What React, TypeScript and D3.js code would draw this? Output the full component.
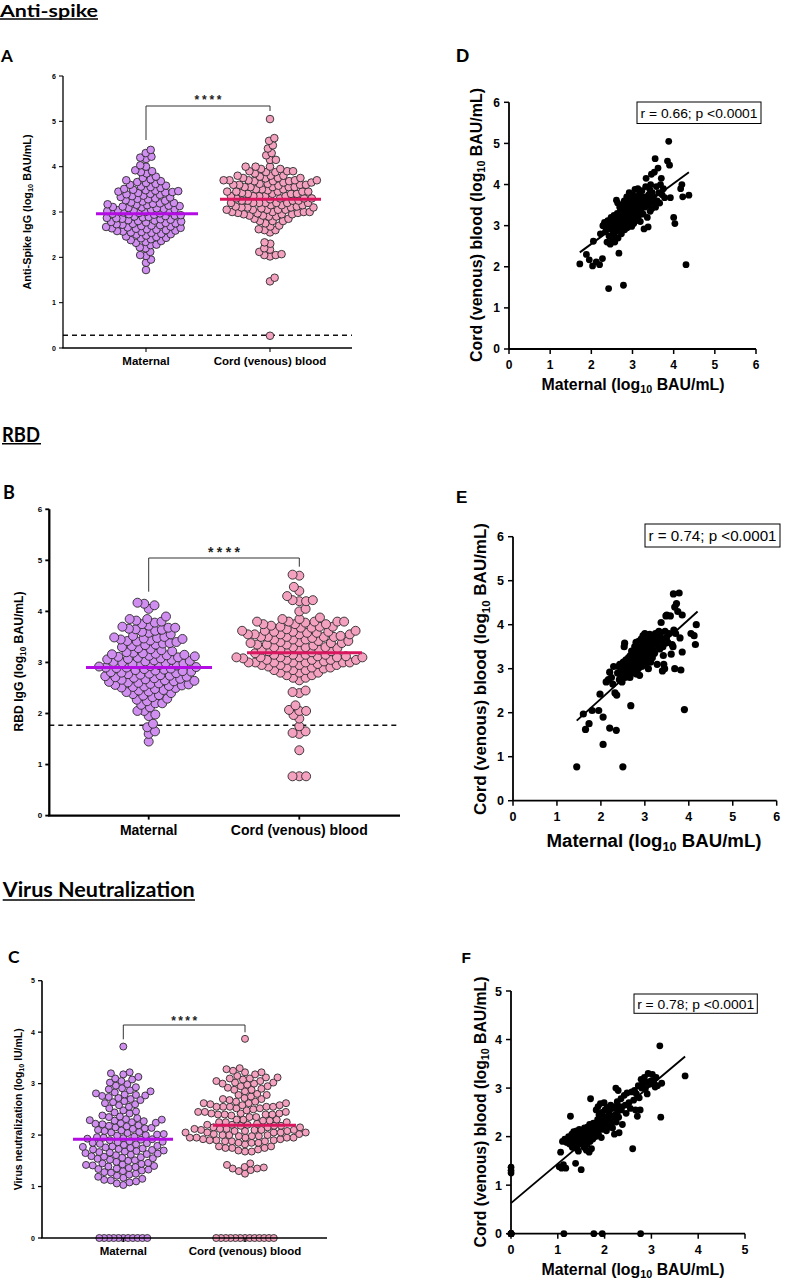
import React from "react";
import * as d3 from "d3";

// ---------------- DATA ----------------
const groupLabels = ["Maternal", "Cord (venous) blood"];
const ticks6 = [0, 1, 2, 3, 4, 5, 6];
const ticks5 = [0, 1, 2, 3, 4, 5];

// Anti-spike: [maternal, cord] log10 BAU/mL
const spikePairs: [number, number][] = [
  [1.72, 2.07], [1.88, 2.3], [1.95, 2.17],
  [2.03, 2.02], [2.05, 2.62], [2.12, 2.12], [2.2, 2.05], [2.27, 2.2], [2.22, 2.8], [2.28, 3.0],
  [2.32, 3.08], [2.34, 2.85], [2.36, 2.95], [2.38, 2.6], [2.4, 3.12], [2.42, 1.47], [2.43, 2.75], [2.45, 3.0], [2.46, 2.55], [2.48, 3.2],
  [2.5, 2.9], [2.51, 2.68], [2.52, 3.1], [2.54, 2.8], [2.55, 3.25], [2.56, 2.98], [2.57, 2.6], [2.58, 3.05], [2.59, 2.85], [2.6, 3.15],
  [2.61, 3.62], [2.62, 2.92], [2.63, 3.3], [2.64, 3.55], [2.65, 2.7], [2.66, 3.05], [2.67, 2.33], [2.68, 3.2], [2.69, 3.45], [2.7, 2.95],
  [2.71, 3.35], [2.72, 3.1], [2.73, 2.8], [2.74, 3.5], [2.75, 3.25], [2.76, 3.0], [2.77, 3.4], [2.78, 1.55], [2.79, 3.15], [2.8, 3.6],
  [2.81, 2.9], [2.82, 3.3], [2.83, 3.05], [2.84, 3.45], [2.85, 3.2], [2.86, 3.7], [2.87, 2.95], [2.88, 3.35], [2.89, 3.1], [2.9, 3.55],
  [2.91, 3.25], [2.92, 3.8], [2.93, 3.0], [2.94, 3.4], [2.95, 3.15], [2.96, 3.65], [2.97, 3.3], [2.98, 2.98], [2.99, 3.5], [3.0, 3.2],
  [3.01, 3.75], [3.02, 3.35], [3.03, 3.05], [3.04, 3.6], [3.05, 3.25], [3.06, 3.88], [3.07, 3.45], [3.08, 3.12], [3.09, 3.7], [3.1, 3.3],
  [3.11, 3.55], [3.12, 3.4], [3.13, 3.9], [3.14, 3.2], [3.15, 3.62], [3.16, 3.35], [3.17, 3.78], [3.18, 3.48], [3.19, 3.1], [3.2, 3.68],
  [3.21, 3.4], [3.23, 3.85], [3.25, 3.55], [3.26, 3.28], [3.28, 2.92], [3.29, 3.7], [3.3, 3.45], [3.32, 3.95], [3.33, 4.15], [3.35, 3.6],
  [3.36, 3.2], [3.38, 2.97], [3.39, 3.75], [3.4, 3.5], [3.42, 3.88], [3.43, 3.35], [3.44, 4.0], [3.45, 3.65], [3.46, 4.25], [3.47, 3.42],
  [3.48, 3.8], [3.49, 3.58], [3.51, 3.7], [3.53, 4.3], [3.55, 4.63], [3.56, 3.45], [3.58, 3.95], [3.6, 3.6], [3.62, 4.4], [3.64, 3.8],
  [3.66, 3.55], [3.68, 4.0], [3.7, 4.15], [3.72, 3.75], [3.75, 3.9], [3.78, 3.68], [3.85, 4.57], [3.88, 5.05], [3.9, 4.47], [3.92, 3.68],
  [4.0, 3.2], [4.03, 3.05], [4.17, 3.9], [4.2, 4.0], [4.22, 3.7], [4.3, 2.05], [4.37, 3.74],
];
const spikeCordExtra = [0.27];
const spikeMedians = [2.96, 3.28];
const spikeCutoff = 0.28;
const spikeFit: [number, number][] = [[1.72, 2.35], [4.37, 4.3]];
const spikeStat = "r = 0.66; p <0.0001";

// RBD
const rbdPairs: [number, number][] = [
  [1.45, 0.77], [1.6, 1.97], [1.65, 1.62],
  [1.73, 1.75], [1.8, 2.05], [1.95, 2.05], [1.98, 2.42],
  [2.05, 1.28], [2.05, 1.9], [2.12, 2.7], [2.17, 2.75], [2.2, 1.65], [2.2, 2.92], [2.24, 2.8], [2.27, 2.65], [2.29, 3.05],
  [2.32, 2.45], [2.35, 1.6], [2.36, 2.4], [2.38, 2.9], [2.4, 3.05], [2.42, 2.75], [2.43, 3.1], [2.45, 2.85], [2.46, 3.0], [2.48, 2.7],
  [2.5, 0.77], [2.51, 3.15], [2.52, 2.95], [2.53, 3.5], [2.54, 3.58], [2.55, 2.8], [2.56, 3.08], [2.57, 3.2], [2.58, 2.9], [2.59, 3.02],
  [2.6, 3.12], [2.61, 2.85], [2.62, 3.0], [2.63, 3.25], [2.64, 2.95], [2.65, 3.1], [2.66, 2.8], [2.67, 3.3], [2.68, 2.16], [2.69, 3.05],
  [2.7, 3.4], [2.71, 2.9], [2.72, 3.18], [2.73, 3.0], [2.74, 3.35], [2.75, 3.1], [2.76, 2.95], [2.77, 3.5], [2.78, 3.22], [2.79, 3.05],
  [2.8, 3.6], [2.81, 2.88], [2.82, 3.3], [2.83, 3.15], [2.84, 3.45], [2.85, 3.0], [2.86, 3.62], [2.87, 3.25], [2.88, 2.85], [2.89, 3.4],
  [2.9, 3.12], [2.9, 3.55], [2.91, 3.2], [2.92, 3.68], [2.93, 3.05], [2.94, 3.42], [2.95, 3.3], [2.96, 3.75], [2.97, 3.15], [2.98, 3.52],
  [2.99, 3.25], [3.0, 3.8], [3.01, 3.38], [3.02, 3.1], [3.03, 3.62], [3.04, 3.48], [3.05, 3.22], [3.06, 3.72], [3.07, 3.35], [3.08, 3.0],
  [3.09, 3.55], [3.1, 3.28], [3.11, 3.78], [3.12, 3.45], [3.13, 3.15], [3.14, 3.65], [3.15, 3.38], [3.16, 3.5], [3.17, 3.25], [3.18, 3.7],
  [3.19, 3.42], [3.2, 3.6], [3.22, 3.35], [3.24, 3.8], [3.26, 3.55], [3.28, 3.1], [3.3, 3.68], [3.32, 3.85], [3.34, 3.45], [3.35, 3.75],
  [3.37, 4.05], [3.38, 3.62], [3.4, 2.95], [3.41, 3.5], [3.42, 3.3], [3.43, 3.1], [3.45, 3.0], [3.46, 3.85], [3.47, 3.58], [3.48, 4.2],
  [3.49, 3.7], [3.5, 4.22], [3.52, 3.6], [3.55, 3.8], [3.58, 4.2], [3.6, 3.33], [3.62, 3.55], [3.64, 3.5], [3.65, 4.7], [3.66, 3.88],
  [3.68, 4.4], [3.68, 3.0], [3.7, 3.8], [3.72, 4.48], [3.75, 4.3], [3.78, 4.72], [3.8, 3.7], [3.82, 2.97], [3.85, 3.38], [3.85, 4.22],
  [3.9, 2.07], [4.05, 3.8], [4.15, 3.55], [4.17, 4.0], [4.12, 3.75],
];
const rbdCordExtra = [0.77];
const rbdMedians = [2.9, 3.19];
const rbdCutoff = 1.77;
const rbdFit: [number, number][] = [[1.45, 1.82], [4.2, 4.3]];
const rbdStat = "r = 0.74; p <0.0001";

// Virus neutralization: [maternal, cord] log10 IU/mL
const neutPairs: [number, number][] = [
  [0, 0], [0, 0], [0, 0], [0, 0], [0, 0], [0, 0], [0, 0], [0, 1.25], [0, 1.3], [0, 1.37],
  [1.13, 0], [1.77, 0], [1.95, 0], [2.77, 0],
  [1.03, 1.38], [1.06, 1.68], [1.08, 1.35], [1.1, 1.9], [1.12, 1.42], [1.15, 1.95], [1.17, 1.35], [1.19, 1.88],
  [1.21, 1.92], [1.23, 2.0], [1.25, 1.85], [1.27, 2.42], [1.28, 1.95], [1.3, 2.05], [1.31, 1.78], [1.33, 1.9], [1.34, 2.1], [1.35, 1.82],
  [1.36, 2.0], [1.38, 1.45], [1.39, 1.88], [1.4, 2.12],
  [1.41, 1.75], [1.42, 1.95], [1.43, 2.05], [1.44, 1.7], [1.45, 1.88], [1.46, 2.15], [1.48, 1.98], [1.5, 1.32], [1.51, 1.85], [1.52, 2.1],
  [1.54, 1.92], [1.55, 2.02], [1.56, 1.78], [1.57, 2.18], [1.58, 1.95], [1.59, 2.08],
  [1.61, 1.72], [1.62, 2.12], [1.63, 1.85], [1.64, 2.2], [1.65, 1.98], [1.66, 2.05], [1.67, 1.68], [1.68, 2.25], [1.69, 1.9], [1.7, 2.78],
  [1.71, 2.1], [1.72, 1.75], [1.73, 2.02], [1.74, 2.18], [1.75, 1.95], [1.76, 2.28], [1.78, 2.08], [1.79, 2.15],
  [1.81, 2.0], [1.82, 2.55], [1.83, 2.22], [1.84, 2.1], [1.85, 2.35], [1.86, 2.62], [1.87, 2.05], [1.88, 2.45], [1.9, 2.2], [1.91, 2.68],
  [1.92, 2.3], [1.93, 1.98], [1.94, 2.5], [1.96, 2.15], [1.97, 2.4], [1.99, 2.7],
  [2.0, 2.25], [2.01, 2.55], [2.02, 2.38], [2.04, 2.12], [2.05, 2.6], [2.06, 2.3], [2.08, 2.45], [2.09, 2.2], [2.1, 2.52], [2.12, 2.35],
  [2.13, 2.65], [2.14, 2.28], [2.15, 2.42], [2.17, 2.18], [2.18, 2.58], [2.19, 2.4],
  [2.21, 2.05], [2.22, 2.62], [2.23, 2.45], [2.24, 3.0], [2.25, 2.3], [2.27, 2.72], [2.28, 2.52], [2.29, 2.95], [2.3, 2.4], [2.31, 2.08],
  [2.33, 2.62], [2.35, 2.78], [2.36, 2.55], [2.38, 2.25],
  [2.42, 2.85], [2.44, 2.65], [2.46, 2.48], [2.48, 2.9], [2.52, 2.7], [2.55, 2.58], [2.58, 2.92], [2.6, 1.75],
  [2.62, 2.75], [2.64, 2.95], [2.66, 2.55], [2.68, 2.88], [2.7, 2.42], [2.72, 3.05], [2.74, 2.8], [2.76, 2.55], [2.78, 3.18], [2.79, 3.0],
  [2.81, 3.1], [2.83, 3.02], [2.85, 3.22], [2.87, 2.98], [2.89, 3.12], [2.91, 2.88], [2.93, 3.3], [2.96, 3.08], [2.99, 3.15],
  [3.02, 3.28], [3.05, 3.12], [3.08, 3.02], [3.1, 3.22], [3.13, 3.05], [3.18, 3.87], [3.2, 2.4], [3.22, 3.1],
  [3.72, 3.25],
];
const neutMaternalExtra = [0];
const neutCordExtra = [0, 0];
const neutMedians = [1.92, 2.19];
const neutFit: [number, number][] = [[0, 0.63], [3.72, 3.65]];
const neutStat = "r = 0.78; p <0.0001";

// ---------------- STYLE ----------------
const MAT_FILL = "#d08ef0";
const CORD_FILL = "#f4a0bf";
const MAT_LINE = "#b30de3";
const CORD_LINE = "#d8175f";
const ARIAL = "'Liberation Sans', Arial, sans-serif";
const TITLE = "Lato, 'Open Sans', sans-serif";

// beeswarm layout (positions only)
function swarm(values: number[], y: (v: number) => number, d: number) {
  const items = values.map((v) => ({ v, py: y(v) })).sort((a, b) => b.py - a.py);
  const placed: { x: number; y: number }[] = [];
  items.forEach((p, k) => {
    const iv: [number, number][] = [];
    for (const q of placed) {
      const dy = Math.abs(q.y - p.py);
      if (dy < d) {
        const w = Math.sqrt(d * d - dy * dy);
        iv.push([q.x - w, q.x + w]);
      }
    }
    const cands = [0];
    iv.forEach(([a, b]) => cands.push(a, b));
    const sgn = k % 2 === 0 ? 1 : -1;
    cands.sort((a, b) => Math.abs(a) - Math.abs(b) || (b - a) * sgn);
    let x = 0;
    for (const c of cands) {
      if (iv.every(([a, b]) => c <= a + 1e-6 || c >= b - 1e-6)) {
        x = c;
        break;
      }
    }
    placed.push({ x, y: p.py });
  });
  return placed;
}

function layoutGroup(vals: number[], y: (v: number) => number, d: number, dZero: number) {
  const zeros = vals.filter((v) => v === 0);
  const rest = vals.filter((v) => v !== 0);
  return swarm(rest, y, d).concat(swarm(zeros, y, dZero));
}

function LogLabel({ pre, post, f }: { pre: string; post: string; f: number }) {
  return (
    <>
      <tspan>{pre}</tspan>
      <tspan fontSize={f * 0.68} dy={f * 0.22}>10</tspan>
      <tspan dy={-f * 0.22}>{post}</tspan>
    </>
  );
}

function SwarmPanel({ c }: { c: any }) {
  const y = d3.scaleLinear().domain([0, c.yMax]).range([c.y0, c.yTop]);
  const pts = c.groups.map((vals: number[], gi: number) =>
    layoutGroup(vals, y, c.d, c.dZero).map((p) => ({ cx: c.cats[gi] + p.x, cy: p.y }))
  );
  const fills = [MAT_FILL, CORD_FILL];
  const lines = [MAT_LINE, CORD_LINE];
  return (
    <g fontFamily={ARIAL}>
      {c.cutoff != null && (
        <line x1={c.x0} x2={c.x1} y1={y(c.cutoff)} y2={y(c.cutoff)} stroke="#111" strokeWidth={1.5} strokeDasharray="5 4" />
      )}
      {pts.map((g: any[], gi: number) =>
        g.map((p, i) => (
          <circle key={gi + "-" + i} cx={p.cx} cy={p.cy} r={c.r} fill={fills[gi]} stroke="#2a2a2a" strokeWidth={0.9} />
        ))
      )}
      {c.medians.map((m: number, gi: number) => (
        <line key={"m" + gi} x1={c.medSpans[gi][0]} x2={c.medSpans[gi][1]} y1={y(m)} y2={y(m)} stroke={lines[gi]} strokeWidth={3} />
      ))}
      {/* bracket */}
      <path
        d={`M${c.cats[0]},${c.bracket[1]}V${c.bracket[0]}H${c.cats[1]}V${c.bracket[2]}`}
        fill="none"
        stroke="#333"
        strokeWidth={1}
      />
      <text x={(c.cats[0] + c.cats[1]) / 2} y={c.starsY} textAnchor="middle" fontWeight="bold" fontSize={c.starsFont} fill="#222" textLength={c.starsLen} lengthAdjust="spacing">
        ****
      </text>
      {/* axes */}
      <line x1={c.x0} x2={c.x0} y1={c.y0} y2={c.yTop} stroke="#000" strokeWidth={c.axisW} />
      <line x1={c.x0 - c.axisW / 2} x2={c.x1} y1={c.y0} y2={c.y0} stroke="#000" strokeWidth={c.axisW} />
      {c.ticks.map((t: number) => (
        <g key={t}>
          <line x1={c.x0 - 4} x2={c.x0} y1={y(t)} y2={y(t)} stroke="#000" strokeWidth={c.axisW * 0.8} />
          <text x={c.x0 - 7} y={y(t) + c.tickFont * 0.36} textAnchor="end" fontSize={c.tickFont} fontWeight="bold">
            {t}
          </text>
        </g>
      ))}
      {c.cats.map((cx: number, i: number) => (
        <g key={"c" + i}>
          <line x1={cx} x2={cx} y1={c.y0} y2={c.y0 + 4} stroke="#000" strokeWidth={c.axisW * 0.8} />
          <text x={cx} y={c.catBase} textAnchor="middle" fontSize={c.catFont} fontWeight="bold">
            {groupLabels[i]}
          </text>
        </g>
      ))}
      <text
        transform={`translate(${c.yLabX + c.yLabFont * 0.36},${(c.y0 + c.yTop) / 2 + c.yLabShift}) rotate(-90)`}
        textAnchor="middle"
        fontSize={c.yLabFont}
        fontWeight="bold"
        textLength={c.yLabLen}
        lengthAdjust="spacingAndGlyphs"
      >
        <LogLabel pre={c.yLab[0]} post={c.yLab[1]} f={c.yLabFont} />
      </text>
    </g>
  );
}

function ScatterPanel({ c }: { c: any }) {
  const x = d3.scaleLinear().domain([0, c.max]).range([c.x0, c.x1]);
  const y = d3.scaleLinear().domain([0, c.max]).range([c.y0, c.yTop]);
  const line = d3.line<[number, number]>().x((d) => x(d[0])).y((d) => y(d[1]));
  const ticks = c.max === 6 ? ticks6 : ticks5;
  return (
    <g fontFamily={ARIAL}>
      <line x1={c.x0} x2={c.x0} y1={c.y0} y2={c.yTop} stroke="#000" strokeWidth={1.8} />
      <line x1={c.x0} x2={c.x1} y1={c.y0} y2={c.y0} stroke="#000" strokeWidth={1.8} />
      {ticks.map((t: number) => (
        <g key={t}>
          <line x1={c.x0 - 5} x2={c.x0} y1={y(t)} y2={y(t)} stroke="#000" strokeWidth={1.5} />
          <text x={c.x0 - 9} y={y(t) + c.tickFont * 0.36} textAnchor="end" fontSize={c.tickFont} fontWeight="bold">
            {t}
          </text>
          <line x1={x(t)} x2={x(t)} y1={c.y0} y2={c.y0 + 5} stroke="#000" strokeWidth={1.5} />
          <text x={x(t)} y={c.y0 + 20} textAnchor="middle" fontSize={c.tickFont} fontWeight="bold">
            {t}
          </text>
        </g>
      ))}
      {c.pairs.map((p: [number, number], i: number) => (
        <circle key={i} cx={x(p[0])} cy={y(p[1])} r={c.r} fill="#000" />
      ))}
      <path d={line(c.fit) || ""} stroke="#000" strokeWidth={1.9} fill="none" />
      <rect x={c.box[0]} y={c.box[1]} width={c.box[2]} height={c.box[3]} fill="#fff" stroke="#000" strokeWidth={1} />
      <text
        x={c.box[0] + c.box[2] / 2}
        y={c.box[1] + c.box[3] / 2 + c.boxFont * 0.36}
        textAnchor="middle"
        fontSize={c.boxFont}
        textLength={c.boxLen}
        lengthAdjust="spacingAndGlyphs"
      >
        {c.stat}
      </text>
      <text
        transform={`translate(${c.yLabX + c.yLabFont * 0.36},${c.yLabY}) rotate(-90)`}
        textAnchor="middle"
        fontSize={c.yLabFont}
        fontWeight="bold"
        textLength={c.yLabLen}
        lengthAdjust="spacingAndGlyphs"
      >
        <LogLabel pre="Cord (venous) blood (log" post=" BAU/mL)" f={c.yLabFont} />
      </text>
      <text
        x={c.xLabX}
        y={c.xLabBase}
        textAnchor="middle"
        fontSize={c.xLabFont}
        fontWeight="bold"
        textLength={c.xLabLen}
        lengthAdjust="spacingAndGlyphs"
      >
        <LogLabel pre="Maternal (log" post=" BAU/mL)" f={c.xLabFont} />
      </text>
    </g>
  );
}

export default function App() {
  const A = {
    x0: 63, x1: 352, y0: 348, yTop: 76, yMax: 6, ticks: ticks6,
    cats: [146, 270],
    groups: [spikePairs.map((p) => p[0]), spikePairs.map((p) => p[1]).concat(spikeCordExtra)],
    medians: spikeMedians, medSpans: [[96, 198], [220, 321]], cutoff: spikeCutoff,
    r: 3.8, d: 5.9, dZero: 5.9, axisW: 1.3, tickFont: 7, catFont: 11.5, catBase: 365,
    yLab: ["Anti-Spike IgG (log", " BAU/mL)"], yLabX: 27, yLabFont: 10.8, yLabLen: 155, yLabShift: 0,
    bracket: [106, 140, 111], starsY: 103.5, starsFont: 12, starsLen: 27,
  };
  const B = {
    x0: 49.3, x1: 400, y0: 815.6, yTop: 509.3, yMax: 6, ticks: ticks6,
    cats: [148.7, 299.3],
    groups: [rbdPairs.map((p) => p[0]), rbdPairs.map((p) => p[1]).concat(rbdCordExtra)],
    medians: rbdMedians, medSpans: [[86, 212], [247, 362]], cutoff: rbdCutoff,
    r: 4.5, d: 6.8, dZero: 6.8, axisW: 2.3, tickFont: 8, catFont: 14, catBase: 835,
    yLab: ["RBD IgG (log", " BAU/mL)"], yLabX: 19, yLabFont: 12, yLabLen: 140, yLabShift: -1,
    bracket: [558, 591.7, 566.7], starsY: 557, starsFont: 14, starsLen: 32,
  };
  const C = {
    x0: 42, x1: 327, y0: 1238, yTop: 980.7, yMax: 5, ticks: ticks5,
    cats: [123.3, 245],
    groups: [neutPairs.map((p) => p[0]).concat(neutMaternalExtra), neutPairs.map((p) => p[1]).concat(neutCordExtra)],
    medians: neutMedians, medSpans: [[73, 173], [213, 296]], cutoff: null,
    r: 3.5, d: 6.7, dZero: 4.8, axisW: 1.6, tickFont: 7, catFont: 11.5, catBase: 1254.5,
    yLab: ["Virus neutralization (log", " IU/mL)"], yLabX: 18, yLabFont: 10.4, yLabLen: 162, yLabShift: 0,
    bracket: [1025, 1039.3, 1032.3], starsY: 1025, starsFont: 12, starsLen: 26,
  };
  const D = {
    x0: 509, x1: 756, y0: 349, yTop: 102.3, max: 6, pairs: spikePairs, fit: spikeFit, stat: spikeStat,
    box: [637, 102, 124, 21.5], boxFont: 13.5, boxLen: 117, tickFont: 12, r: 3.4,
    yLabX: 476, yLabY: 225, yLabFont: 15.9, yLabLen: 274,
    xLabX: 633, xLabBase: 390, xLabFont: 15.8, xLabLen: 183,
  };
  const E = {
    x0: 513, x1: 776.7, y0: 800.7, yTop: 536.7, max: 6, pairs: rbdPairs, fit: rbdFit, stat: rbdStat,
    box: [645, 524, 135, 23], boxFont: 15, boxLen: 128, tickFont: 12.5, r: 3.6,
    yLabX: 480, yLabY: 669, yLabFont: 17, yLabLen: 292,
    xLabX: 654, xLabBase: 847, xLabFont: 18, xLabLen: 215,
  };
  const F = {
    x0: 511, x1: 745, y0: 1233.7, yTop: 991, max: 5, pairs: neutPairs, fit: neutFit, stat: neutStat,
    box: [634, 994, 123.3, 19.3], boxFont: 13.5, boxLen: 117, tickFont: 12.5, r: 3.4,
    yLabX: 480, yLabY: 1112, yLabFont: 15.7, yLabLen: 271,
    xLabX: 633, xLabBase: 1275, xLabFont: 15.8, xLabLen: 183,
  };
  return (
    <svg width={785} height={1285} style={{ position: "absolute", left: 0, top: 0, background: "#fff" }}>
      <rect width={785} height={1285} fill="#fff" />
      {/* section titles */}
      <g fontFamily={TITLE} fontWeight="bold" fill="#000">
        <text x={0} y={17} fontSize={17.5} textLength={98} lengthAdjust="spacingAndGlyphs">Anti-spike</text>
        <line x1={0} x2={98} y1={19} y2={19} stroke="#000" strokeWidth={1.6} />
        <text x={2} y={441.5} fontSize={20} textLength={38} lengthAdjust="spacingAndGlyphs">RBD</text>
        <line x1={2} x2={41} y1={443.8} y2={443.8} stroke="#000" strokeWidth={1.6} />
        <text x={2.7} y={897} fontSize={21} textLength={192} lengthAdjust="spacingAndGlyphs">Virus Neutralization</text>
        <line x1={2.7} x2={195} y1={900} y2={900} stroke="#000" strokeWidth={1.6} />
        <text x={1} y={62} fontSize={17}>A</text>
        <text x={3} y={498.5} fontSize={18}>B</text>
        <text x={8} y={962.7} fontSize={17.5}>C</text>
      </g>
      <g fontFamily={ARIAL} fontWeight="bold">
        <text x={456} y={61.7} fontSize={18.5}>D</text>
        <text x={456} y={503} fontSize={17}>E</text>
        <text x={461.5} y={962.7} fontSize={15.4}>F</text>
      </g>
      <SwarmPanel c={A} />
      <SwarmPanel c={B} />
      <SwarmPanel c={C} />
      <ScatterPanel c={D} />
      <ScatterPanel c={E} />
      <ScatterPanel c={F} />
    </svg>
  );
}
